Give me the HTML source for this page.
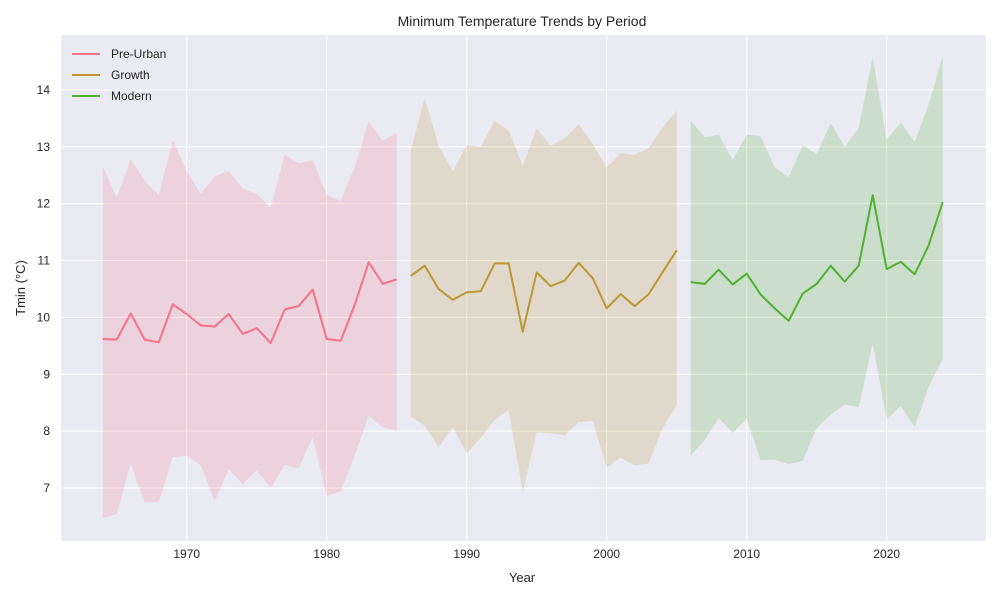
<!DOCTYPE html>
<html><head><meta charset="utf-8"><style>
body{margin:0;background:#fff;font-family:"Liberation Sans","DejaVu Sans",sans-serif}
</style></head><body>
<svg id="chart" width="1000" height="600" xmlns="http://www.w3.org/2000/svg" font-family="Liberation Sans, DejaVu Sans, sans-serif">
<rect x="61" y="35" width="925" height="506" fill="#eaeaf2"/>
<g id="grid"></g><g id="series"></g><g id="axes"></g>
<text x="522" y="26" text-anchor="middle" font-size="14" fill="#262626">Minimum Temperature Trends by Period</text>
<text x="522" y="582" text-anchor="middle" font-size="13" fill="#262626">Year</text>
<text x="25" y="288" text-anchor="middle" font-size="13" fill="#262626" transform="rotate(-90 25 288)">Tmin (°C)</text>
<g>
<line x1="72" y1="54" x2="100" y2="54" stroke="#f77189" stroke-width="2"/><text x="111" y="58" font-size="12" fill="#262626">Pre-Urban</text>
<line x1="72" y1="75" x2="100" y2="75" stroke="#bb9832" stroke-width="2"/><text x="111" y="79" font-size="12" fill="#262626">Growth</text>
<line x1="72" y1="96" x2="100" y2="96" stroke="#50b131" stroke-width="2"/><text x="111" y="100" font-size="12" fill="#262626">Modern</text>
</g>
</svg>
<script>
const preYears=[1964,1985];
const preMean=[9.62,9.61,10.07,9.61,9.56,10.23,10.06,9.86,9.84,10.06,9.71,9.81,9.55,10.14,10.20,10.49,9.62,9.59,10.22,10.97,10.59,10.67];
const preUpper=[12.66,12.10,12.79,12.40,12.15,13.12,12.58,12.17,12.48,12.57,12.27,12.17,11.93,12.86,12.71,12.77,12.15,12.05,12.65,13.45,13.10,13.25];
const preLower=[6.47,6.54,7.43,6.75,6.75,7.54,7.57,7.40,6.77,7.33,7.07,7.31,7.00,7.41,7.34,7.90,6.86,6.94,7.57,8.27,8.07,8.01];
const growthStart=1986;
const growthMean=[10.73,10.91,10.50,10.31,10.44,10.46,10.95,10.95,9.75,10.79,10.55,10.65,10.96,10.69,10.16,10.41,10.20,10.41,10.80,11.18];
const growthUpper=[12.93,13.86,13.02,12.57,13.03,13.00,13.46,13.29,12.67,13.33,13.02,13.15,13.40,13.05,12.64,12.89,12.86,12.98,13.34,13.64];
const growthLower=[8.26,8.10,7.72,8.07,7.61,7.88,8.20,8.37,6.94,7.98,7.96,7.93,8.16,8.18,7.36,7.53,7.40,7.43,8.06,8.45];
const modernStart=2006;
const modernMean=[10.62,10.59,10.84,10.58,10.77,10.40,10.16,9.94,10.42,10.59,10.91,10.63,10.91,12.15,10.85,10.98,10.76,11.27,12.03];
const modernUpper=[13.46,13.17,13.21,12.77,13.21,13.19,12.64,12.47,13.03,12.87,13.42,13.00,13.33,14.58,13.13,13.43,13.09,13.75,14.60];
const modernLower=[7.57,7.84,8.23,7.97,8.22,7.49,7.50,7.42,7.48,8.05,8.29,8.47,8.42,9.54,8.21,8.44,8.07,8.78,9.27];
const xTicks=[1970,1980,1990,2000,2010,2020];
const yTicks=[7,8,9,10,11,12,13,14];
const NS="http://www.w3.org/2000/svg";
const X=y=>186.7+(y-1970)*14;
const Y=v=>90+(14-v)*(398/7);
function mk(t,a,p){const e=document.createElementNS(NS,t);for(const k in a)e.setAttribute(k,a[k]);p.appendChild(e);return e;}
const grid=document.getElementById('grid'),axes=document.getElementById('axes'),ser=document.getElementById('series');
xTicks.forEach(t=>{const l=mk('line',{x1:X(t),x2:X(t),y1:35,y2:541,stroke:'#fff','stroke-width':1},grid);


const tx=mk('text',{x:X(t),y:558,'text-anchor':'middle','font-size':12,fill:'#262626'},axes);tx.textContent=t;

});
yTicks.forEach(t=>{const l=mk('line',{x1:61,x2:986,y1:Y(t),y2:Y(t),stroke:'#fff','stroke-width':1},grid);


const tx=mk('text',{x:50,y:Y(t)+4,'text-anchor':'end','font-size':12,fill:'#262626'},axes);tx.textContent=t;

});
function draw(start,mean,up,lo,color,name){
 const up_=up.map((v,i)=>X(start+i)+','+Y(v));const lo_=lo.map((v,i)=>X(start+i)+','+Y(v)).reverse();
 const b=mk('polygon',{points:up_.concat(lo_).join(' '),fill:color,'fill-opacity':0.2},ser);
 
 
 const l=mk('polyline',{points:mean.map((v,i)=>X(start+i)+','+Y(v)).join(' '),fill:'none',stroke:color,'stroke-width':2,'stroke-linejoin':'round'},ser);
 
 
}
draw(preYears[0],preMean,preUpper,preLower,'#f77189','pre-urban');
draw(growthStart,growthMean,growthUpper,growthLower,'#bb9832','growth');
draw(modernStart,modernMean,modernUpper,modernLower,'#50b131','modern');
</script>
</body></html>
